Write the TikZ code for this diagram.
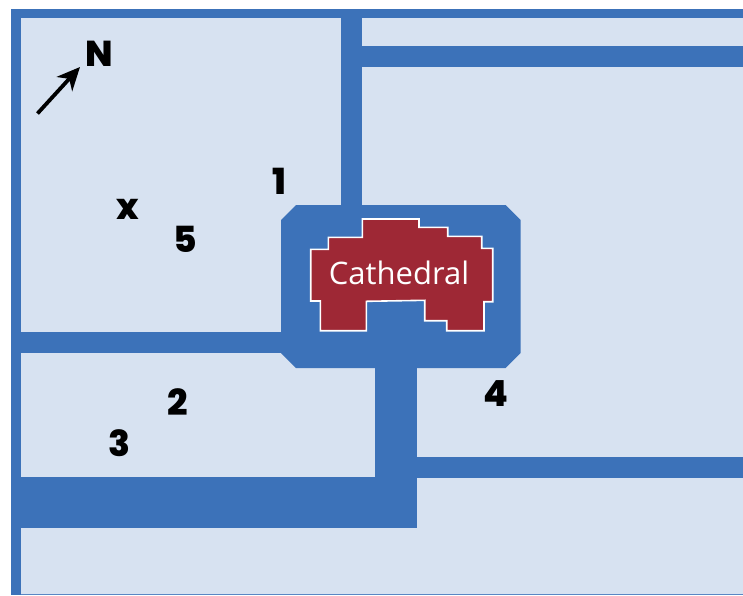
\documentclass[tikz,border=0pt]{standalone}
\usepackage{fontspec}
\setmainfont{Open Sans}
\newfontfamily\heavyfont{Poppins ExtraBold}
\usetikzlibrary{arrows.meta,calc}
\definecolor{roadblue}{HTML}{3C72B9}
\definecolor{landblue}{HTML}{D7E2F1}
\definecolor{cathred}{HTML}{9E2835}
\tikzset{
  road/.style={fill=roadblue,draw=none},
  mark label/.style={font=\heavyfont\fontsize{36pt}{36pt}\selectfont,text=black,inner sep=0pt,anchor=center},
}
\begin{document}
\begin{tikzpicture}[x=1pt,y=-1pt]
\useasboundingbox (0,0) rectangle (743,595);
\fill[landblue] (11,9) rectangle (743,595);
\fill[roadblue!85!white] (11,593.7) rectangle (743,595);
% roads
\fill[road] (11,9) rectangle (743,18.3);
\fill[road] (11,9) rectangle (20.5,595);
\fill[road] (341,9) rectangle (362,210);
\fill[road] (362,46) rectangle (743,67);
\fill[road] (11,332) rectangle (295,353);
\fill[road] (375,360) rectangle (417,528);
\fill[road] (417,457) rectangle (743,478);
\fill[road] (11,477) rectangle (417,528);
% plaza
\fill[road] (296,205) -- (505.7,205) -- (520.7,220) -- (520.7,353) -- (505.7,368) -- (296,368) -- (281,353) -- (281,220) -- cycle;
% cathedral
\filldraw[fill=cathred,draw=white,line width=1.6pt,line join=miter]
 (310.7,249.3) -- (328.3,249.3) -- (328.3,237.3) -- (362.3,237.3) -- (362.3,219) -- (419,219) -- (419,227.3) -- (447.7,227.3) -- (447.7,236.3) -- (481.7,236.3) -- (481.7,248.3) -- (492.7,248.3) -- (492.7,301.7) -- (484,301.7) -- (484,330.7) -- (446.7,330.7) -- (446.7,320.7) -- (424.7,320.7) -- (424.7,300.3) -- (366.3,301.3) -- (366.3,330.7) -- (320.3,330.7) -- (320.3,301) -- (310.7,301) -- cycle;
\node[font=\fontsize{31pt}{32pt}\selectfont,text=white,inner sep=0pt,anchor=center] (cath) at (399,273) {Cathedral};
% north
\node[mark label] (north) at (99.5,54) {N};
\coordinate (tail) at (37.5,113.5);
\coordinate (head) at (80,67);
\draw[black,line width=3.8pt,-{Stealth[length=23pt,width=21pt,inset=7pt]}] (tail) -- (head);
% labels
\node[mark label] (n1) at (279.5,181) {1};
\node[mark label] (nx) at (127.5,209) {x};
\node[mark label] (n5) at (185,239) {5};
\node[mark label] (n2) at (178,402) {2};
\node[mark label] (n3) at (119,443) {3};
\node[mark label] (n4) at (496,394) {4};
\end{tikzpicture}
\end{document}
